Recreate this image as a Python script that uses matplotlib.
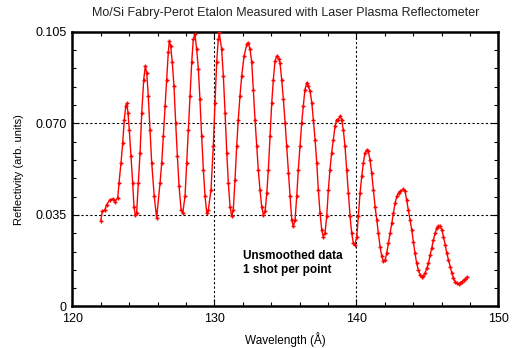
import matplotlib
matplotlib.use("Agg")
import matplotlib.pyplot as plt
from matplotlib.ticker import MultipleLocator, FixedLocator

plt.rcParams['font.family'] = ['Liberation Sans', 'DejaVu Sans']

wavelength = [
    121.99, 122.10, 122.29, 122.41, 122.64, 122.88, 123.00, 123.19, 123.28, 123.42,
    123.54, 123.65, 123.75, 123.82, 123.91, 124.00, 124.12, 124.24, 124.33, 124.43,
    124.52, 124.64, 124.76, 124.88, 125.02, 125.13, 125.23, 125.34, 125.46, 125.58,
    125.76, 125.93, 126.17, 126.29, 126.40, 126.52, 126.64, 126.75, 126.82, 126.92,
    127.03, 127.15, 127.27, 127.39, 127.51, 127.65, 127.77, 127.93, 128.05, 128.16,
    128.28, 128.40, 128.51, 128.63, 128.75, 128.87, 128.98, 129.10, 129.22, 129.34,
    129.46, 129.57, 129.76, 129.92, 130.04, 130.16, 130.27, 130.34, 130.51, 130.63,
    130.75, 130.87, 130.98, 131.10, 131.22, 131.33, 131.45, 131.57, 131.68, 131.80,
    131.92, 132.09, 132.28, 132.39, 132.51, 132.63, 132.74, 132.86, 132.98, 133.09,
    133.21, 133.33, 133.45, 133.57, 133.69, 133.80, 133.92, 134.04, 134.15, 134.27,
    134.39, 134.55, 134.62, 134.74, 134.86, 134.98, 135.09, 135.21, 135.33, 135.45,
    135.56, 135.68, 135.80, 135.91, 136.03, 136.15, 136.26, 136.38, 136.50, 136.61,
    136.74, 136.86, 136.97, 137.09, 137.21, 137.32, 137.44, 137.56, 137.67, 137.79,
    137.91, 138.03, 138.14, 138.26, 138.38, 138.50, 138.61, 138.73, 138.85, 138.96,
    139.08, 139.20, 139.32, 139.44, 139.56, 139.67, 139.79, 139.91, 140.03, 140.14,
    140.26, 140.38, 140.49, 140.61, 140.73, 140.84, 140.96, 141.08, 141.20, 141.32,
    141.44, 141.55, 141.67, 141.79, 141.91, 142.03, 142.14, 142.26, 142.38, 142.50,
    142.61, 142.73, 142.85, 142.97, 143.11, 143.31, 143.43, 143.54, 143.66, 143.78,
    143.90, 144.02, 144.13, 144.25, 144.37, 144.49, 144.61, 144.72, 144.84, 144.96,
    145.08, 145.20, 145.31, 145.43, 145.55, 145.67, 145.78, 145.90, 146.02, 146.14,
    146.26, 146.37, 146.49, 146.61, 146.73, 146.84, 146.96, 147.08, 147.20, 147.31,
    147.43, 147.55, 147.67, 147.77,
]

reflectivity = [
    0.0327, 0.0363, 0.0370, 0.0389, 0.0408, 0.0412, 0.0401, 0.0416, 0.0473, 0.0550,
    0.0626, 0.0714, 0.0765, 0.0776, 0.0741, 0.0676, 0.0574, 0.0473, 0.0382, 0.0348,
    0.0358, 0.0473, 0.0588, 0.0741, 0.0867, 0.0918, 0.0894, 0.0804, 0.0676, 0.0550,
    0.0421, 0.0338, 0.0473, 0.0550, 0.0650, 0.0765, 0.0867, 0.0971, 0.1014, 0.0995,
    0.0933, 0.0842, 0.0703, 0.0574, 0.0459, 0.0370, 0.0358, 0.0421, 0.0550, 0.0676,
    0.0804, 0.0933, 0.1021, 0.1040, 0.0982, 0.0906, 0.0791, 0.0650, 0.0523, 0.0421,
    0.0358, 0.0370, 0.0446, 0.0612, 0.0779, 0.0933, 0.1021, 0.1047, 0.0982, 0.0880,
    0.0741, 0.0588, 0.0473, 0.0382, 0.0344, 0.0370, 0.0484, 0.0612, 0.0714, 0.0804,
    0.0880, 0.0957, 0.1002, 0.1008, 0.0982, 0.0933, 0.0829, 0.0714, 0.0612, 0.0523,
    0.0446, 0.0382, 0.0350, 0.0363, 0.0434, 0.0523, 0.0650, 0.0779, 0.0867, 0.0938,
    0.0957, 0.0944, 0.0931, 0.0867, 0.0791, 0.0702, 0.0612, 0.0511, 0.0421, 0.0331,
    0.0306, 0.0331, 0.0421, 0.0523, 0.0612, 0.0702, 0.0765, 0.0829, 0.0855, 0.0842,
    0.0823, 0.0779, 0.0714, 0.0638, 0.0550, 0.0446, 0.0358, 0.0293, 0.0267, 0.0280,
    0.0344, 0.0446, 0.0523, 0.0588, 0.0638, 0.0689, 0.0714, 0.0714, 0.0727, 0.0714,
    0.0676, 0.0612, 0.0523, 0.0434, 0.0344, 0.0280, 0.0242, 0.0236, 0.0267, 0.0344,
    0.0434, 0.0497, 0.0548, 0.0587, 0.0599, 0.0593, 0.0561, 0.0510, 0.0446, 0.0382,
    0.0331, 0.0280, 0.0229, 0.0191, 0.0172, 0.0178, 0.0204, 0.0242, 0.0280, 0.0319,
    0.0357, 0.0395, 0.0421, 0.0434, 0.0440, 0.0449, 0.0440, 0.0408, 0.0370, 0.0331,
    0.0293, 0.0248, 0.0204, 0.0165, 0.0140, 0.0121, 0.0114, 0.0117, 0.0127, 0.0146,
    0.0165, 0.0197, 0.0223, 0.0255, 0.0280, 0.0300, 0.0308, 0.0306, 0.0293, 0.0267,
    0.0236, 0.0204, 0.0178, 0.0152, 0.0127, 0.0108, 0.0095, 0.0089, 0.0086, 0.0089,
    0.0095, 0.0101, 0.0104, 0.0112,
]

x_ticks = [120, 130, 140, 150]
x_tick_labels = ["120", "130", "140", "150"]
y_ticks = [0, 0.035, 0.070, 0.105]
y_tick_labels = ["0", "0.035", "0.070", "0.105"]
grid_x = [130, 140]
grid_y = [0.035, 0.070]

title = "Mo/Si Fabry-Perot Etalon Measured with Laser Plasma Reflectometer"
x_label = "Wavelength (Å)"
y_label = "Reflectivity (arb. units)"
note = "Unsmoothed data\n1 shot per point"

fig = plt.figure(figsize=(5.17, 3.48), dpi=100)
ax = fig.add_axes([0.1402, 0.1193, 0.8236, 0.7896])

for gx in grid_x:
    ax.axvline(gx, color='black', lw=0.8, ls=(0, (2, 2)), zorder=1)
for gy in grid_y:
    ax.axhline(gy, color='black', lw=0.8, ls=(0, (2, 2)), zorder=1)

ax.plot(wavelength, reflectivity, color='red', lw=1.0, marker='+', ms=3,
        mew=1.0, zorder=3)

ax.set_xlim(120, 150)
ax.set_ylim(0, 0.105)
ax.xaxis.set_major_locator(FixedLocator(x_ticks))
ax.set_xticklabels(x_tick_labels)
ax.yaxis.set_major_locator(FixedLocator(y_ticks))
ax.set_yticklabels(y_tick_labels)
ax.xaxis.set_minor_locator(MultipleLocator(2))
ax.yaxis.set_minor_locator(MultipleLocator(0.007))
ax.tick_params(which='both', direction='in', top=True, right=True, labelsize=9,
               width=0.8)
ax.tick_params(axis='x', which='major', length=5, pad=5)
ax.tick_params(axis='y', which='major', length=5, pad=4)
ax.tick_params(which='minor', length=3)
for s in ax.spines.values():
    s.set_linewidth(1.8)

ax.set_title(title, fontsize=9, color='#222222', pad=11)
ax.set_xlabel(x_label, fontsize=8.5, labelpad=5)
ax.set_ylabel(y_label, fontsize=8, labelpad=8)
ax.text(132.0, 0.0215, note, fontsize=8.5, fontweight='bold', va='top', ha='left',
        linespacing=1.15)

fig.savefig("out.png", dpi=100)
